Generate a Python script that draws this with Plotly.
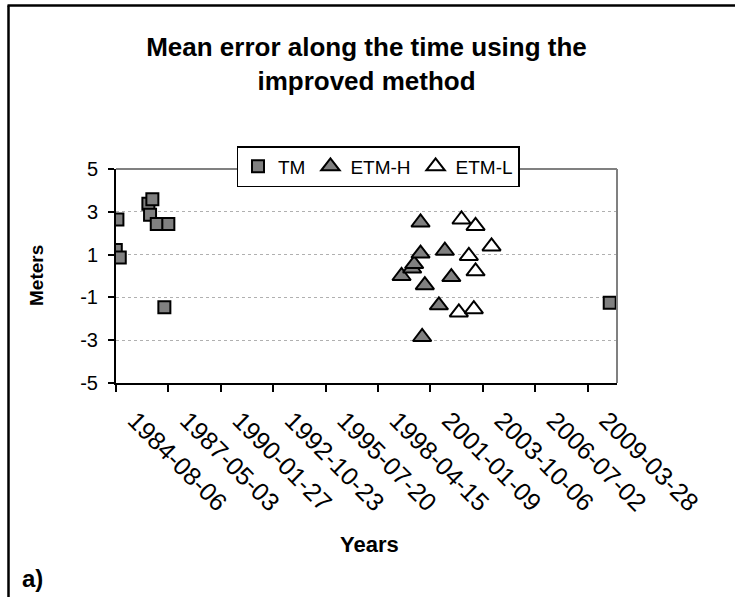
import plotly.graph_objects as go

# ---- data ----
tm_dates = ['1984-08-02', '1984-09-02', '1984-10-17', '1986-04-16', '1986-05-18',
            '1986-07-01', '1986-09-23', '1987-02-15', '1987-05-02', '2010-05-26']
tm_values = [1.22, 2.64, 0.87, 3.38, 2.86, 3.59, 2.43, -1.46, 2.43, -1.25]

etmh_dates = ['1999-07-10', '2000-01-28', '2000-03-06', '2000-07-06', '2000-07-06',
              '2000-08-06', '2000-09-26', '2001-06-21', '2001-10-13', '2002-02-14']
etmh_values = [0.00, 0.35, 0.56, 2.50, 1.05, -2.85, -0.43, -1.37, 1.18, -0.05]

etml_dates = ['2002-07-07', '2002-08-27', '2003-01-14', '2003-04-19', '2003-05-22',
              '2003-05-22', '2004-03-22']
etml_values = [-1.70, 2.64, 0.94, -1.55, 2.34, 0.22, 1.38]

x_ticks = ['1984-08-06', '1987-05-03', '1990-01-27', '1992-10-23', '1995-07-20',
           '1998-04-15', '2001-01-09', '2003-10-06', '2006-07-02', '2009-03-28']
x_range = ['1984-08-06', '2010-10-12']
y_ticks = [-5, -3, -1, 1, 3, 5]
y_ticktext = ['-5', '-3', '-1', '1', '3', '5']

FONT = 'Liberation Sans, Arial, sans-serif'

fig = go.Figure()
fig.add_trace(go.Scatter(
    x=tm_dates, y=tm_values, mode='markers', name='TM',
    marker=dict(symbol='square', size=12, color='#808080',
                line=dict(color='black', width=2))))
fig.add_trace(go.Scatter(
    x=etmh_dates, y=etmh_values, mode='markers', name='ETM-H',
    marker=dict(symbol='triangle-up', size=16, color='#808080',
                line=dict(color='black', width=2))))
fig.add_trace(go.Scatter(
    x=etml_dates, y=etml_values, mode='markers', name='ETM-L',
    marker=dict(symbol='triangle-up', size=16, color='white',
                line=dict(color='black', width=2))))

L, R, T, B = 116, 118, 169, 214
W, H = 735, 597
pw, ph = W - L - R, H - T - B

def px(x):
    return (x - L) / pw

def py(y):
    return (H - B - y) / ph

fig.update_layout(
    width=W, height=H,
    margin=dict(l=L, r=R, t=T, b=B),
    paper_bgcolor='white', plot_bgcolor='white',
    font=dict(family=FONT, color='black', size=20),
    title=dict(text='<b>Mean error along the time using the<br>improved method</b>',
               x=0.5, xanchor='center', xref='paper',
               y=1 - 56 / H, yanchor='top', yref='container',
               font=dict(size=26, family=FONT, color='black')),
    showlegend=True,
    legend=dict(orientation='h', x=px(378), xanchor='center',
                y=py(146), yanchor='top',
                bordercolor='black', borderwidth=1.5,
                font=dict(size=19, family=FONT, color='black'),
                bgcolor='white', itemwidth=30),
    xaxis=dict(type='date', range=x_range, tickmode='array',
               tickvals=x_ticks, ticktext=x_ticks, tickangle=45,
               ticks='outside', ticklen=7, tickwidth=2, tickcolor='black',
               ticklabelstandoff=4, ticklabelshift=19,
               showline=True, linecolor='black', linewidth=2,
               showgrid=False, zeroline=False,
               tickfont=dict(size=25, family=FONT, color='black')),
    yaxis=dict(range=[-5, 5], tickmode='array', tickvals=y_ticks,
               ticktext=y_ticktext, ticklabelstandoff=6,
               ticks='outside', ticklen=6, tickwidth=2, tickcolor='black',
               showline=True, linecolor='black', linewidth=2,
               showgrid=True, gridcolor='#b0b0b0', griddash='dot', gridwidth=1,
               zeroline=False,
               tickfont=dict(size=20, family=FONT, color='black')),
    annotations=[
        dict(text='<b>Meters</b>', x=px(36), y=0.5, xref='paper', yref='paper',
             xanchor='center', yanchor='middle',
             textangle=-90, showarrow=False, font=dict(size=19, family=FONT)),
        dict(text='<b>Years</b>', x=px(369), y=py(544), xref='paper', yref='paper',
             xanchor='center', yanchor='middle',
             showarrow=False, font=dict(size=22, family=FONT)),
        dict(text='<b>a)</b>', x=px(20), y=py(578), xref='paper', yref='paper',
             xanchor='left', yanchor='middle', showarrow=False,
             font=dict(size=24, family=FONT)),
    ],
    shapes=[
        # plot-area border (top and right, grey)
        dict(type='line', xref='paper', yref='paper', x0=0, x1=1, y0=1, y1=1,
             line=dict(color='#808080', width=2)),
        dict(type='line', xref='paper', yref='paper', x0=1, x1=1, y0=0, y1=1,
             line=dict(color='#808080', width=2)),
        # chart-area frame (left and top, black)
        dict(type='line', xref='paper', yref='paper', x0=px(8.5), x1=px(8.5),
             y0=py(H + 5), y1=py(5.5), line=dict(color='black', width=2.5)),
        dict(type='line', xref='paper', yref='paper', x0=px(7.5), x1=px(W + 5),
             y0=py(5.5), y1=py(5.5), line=dict(color='black', width=2.5)),
    ],
)

fig.write_html('out.html')
